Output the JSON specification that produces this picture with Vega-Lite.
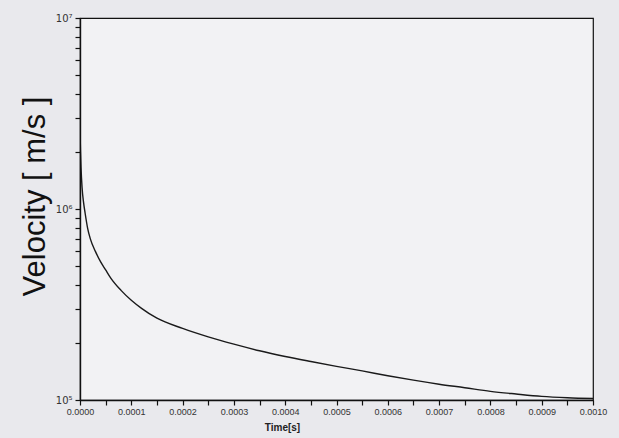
{
  "$schema": "https://vega.github.io/schema/vega-lite/v6.json",
  "width": 513,
  "height": 382,
  "autosize": {"type": "none"},
  "padding": {"left": 80, "top": 18, "right": 26, "bottom": 38},
  "background": "#e9e9ed",
  "config": {
    "view": {"stroke": "#111", "strokeWidth": 1.2, "fill": "#f2f2f4"},
    "font": "Liberation Sans",
    "axis": {"ticks": true, "tickSize": 5, "tickColor": "#111", "tickWidth": 1.2, "tickOpacity": 1}
  },
  "data": {
    "values": [
      {"t": 0.0, "v": 2600000},
      {"t": 0.000001, "v": 2000000},
      {"t": 0.000002, "v": 1650000},
      {"t": 0.000004, "v": 1300000},
      {"t": 0.000007, "v": 1080000},
      {"t": 0.00001, "v": 950000},
      {"t": 0.000015, "v": 790000},
      {"t": 0.00002, "v": 700000},
      {"t": 0.00003, "v": 600000},
      {"t": 0.00004, "v": 530000},
      {"t": 0.00005, "v": 480000},
      {"t": 0.00006, "v": 435000},
      {"t": 0.00008, "v": 375000},
      {"t": 0.0001, "v": 333000},
      {"t": 0.00012, "v": 302000},
      {"t": 0.00015, "v": 268000},
      {"t": 0.0002, "v": 237000},
      {"t": 0.00025, "v": 214000},
      {"t": 0.0003, "v": 196000},
      {"t": 0.00035, "v": 181000},
      {"t": 0.0004, "v": 169000},
      {"t": 0.00045, "v": 159000},
      {"t": 0.0005, "v": 150000},
      {"t": 0.00055, "v": 142000},
      {"t": 0.0006, "v": 134000},
      {"t": 0.00065, "v": 127000},
      {"t": 0.0007, "v": 121000},
      {"t": 0.00075, "v": 116000},
      {"t": 0.0008, "v": 111000},
      {"t": 0.00085, "v": 107500},
      {"t": 0.0009, "v": 104500},
      {"t": 0.00095, "v": 102800},
      {"t": 0.001, "v": 101800}
    ]
  },
  "mark": {"type": "line", "color": "#1a1a1a", "strokeWidth": 1.4, "clip": true, "interpolate": "monotone"},
  "encoding": {
    "x": {
      "field": "t",
      "type": "quantitative",
      "scale": {"domain": [0, 0.001], "nice": false, "zero": false},
      "axis": {
        "title": "Time[s]",
        "titleFontSize": 10,
        "titleFontWeight": "bold",
        "titleColor": "#222",
        "titleX": 202,
        "titlePadding": 6,
        "grid": false,
        "domainColor": "#111",
        "domainWidth": 1.6,
        "zindex": 1,
        "values": [0, 0.00005, 0.0001, 0.00015, 0.0002, 0.00025, 0.0003, 0.00035, 0.0004, 0.00045, 0.0005, 0.00055, 0.0006, 0.00065, 0.0007, 0.00075, 0.0008, 0.00085, 0.0009, 0.00095, 0.001],
        "labelExpr": "round(datum.value*20000) % 2 == 0 ? format(datum.value, '.4f') : ''",
        "labelFontSize": 9,
        "labelColor": "#333",
        "labelPadding": 2,
        "labelOverlap": false,
        "labelFlush": false
      }
    },
    "y": {
      "field": "v",
      "type": "quantitative",
      "scale": {"type": "log", "domain": [100000, 10000000], "nice": false},
      "axis": {
        "title": "Velocity [ m/s ]",
        "titleFontSize": 31,
        "titleFontWeight": "normal",
        "titleColor": "#111",
        "titlePadding": 4,
        "titleY": 178,
        "grid": false,
        "domainColor": "#111",
        "domainWidth": 1.4,
        "zindex": 1,
        "values": [100000, 200000, 300000, 400000, 500000, 600000, 700000, 800000, 900000, 1000000, 2000000, 3000000, 4000000, 5000000, 6000000, 7000000, 8000000, 9000000, 10000000],
        "labelExpr": "datum.value == 100000 ? '10⁵' : datum.value == 1000000 ? '10⁶' : datum.value == 10000000 ? '10⁷' : ''",
        "labelFont": "DejaVu Sans",
        "labelFontSize": 10,
        "labelColor": "#333",
        "labelPadding": 3,
        "labelOverlap": false,
        "labelFlush": false
      }
    }
  }
}
